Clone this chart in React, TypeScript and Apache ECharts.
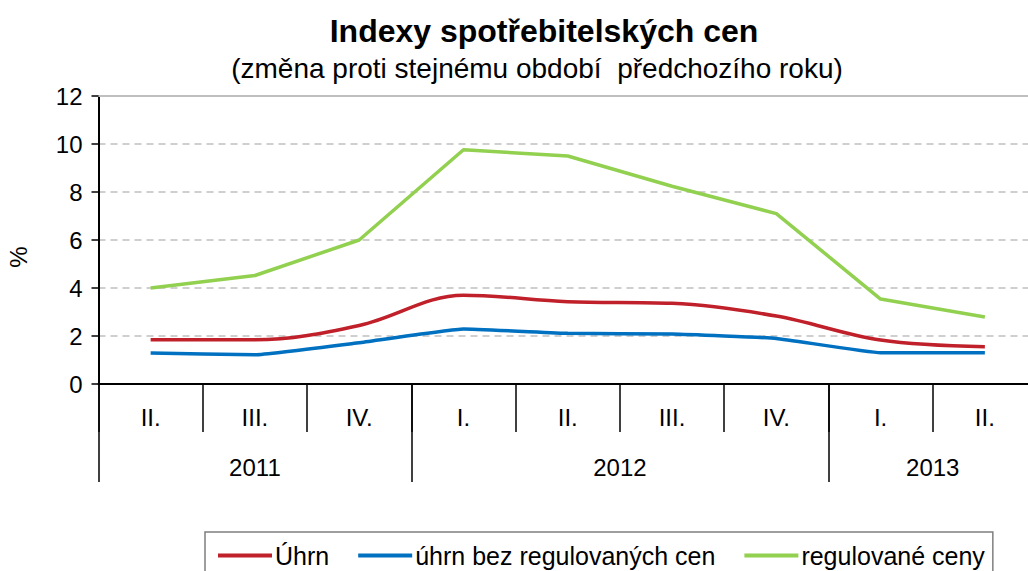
import React, { useEffect, useRef } from "react";
import * as echarts from "echarts";

const quarters = ["II.", "III.", "IV.", "I.", "II.", "III.", "IV.", "I.", "II."];
const yearLabels = ["2011", "2012", "2013"];
const yearLabelPositions = [1.5, 5, 8];
const yearBoundaries = [0, 3, 7, 9];

const uhrn = [1.84, 1.84, 2.44, 3.7, 3.43, 3.36, 2.83, 1.83, 1.55];
const uhrnBezRegulovanych = [1.29, 1.22, 1.72, 2.29, 2.11, 2.08, 1.9, 1.3, 1.3];
const regulovaneCeny = [4.0, 4.52, 6.0, 9.76, 9.5, 8.24, 7.1, 3.54, 2.79];

const FONT = "'Liberation Sans', Arial, sans-serif";

export default function App() {
  const ref = useRef<HTMLDivElement>(null);

  useEffect(() => {
    if (!ref.current) return;
    const chart = echarts.init(ref.current, undefined, { renderer: "svg" });
    chart.setOption({
      animation: false,
      backgroundColor: "#ffffff",
      textStyle: { fontFamily: FONT, color: "#000" },
      title: [
        {
          text: "Indexy spotřebitelských cen",
          left: 539,
          top: 10,
          textAlign: "center",
          textStyle: { fontFamily: FONT, fontSize: 32, fontWeight: "bold", color: "#000" },
        },
        {
          text: "(změna proti stejnému období  předchozího roku)",
          left: 532,
          top: 49,
          textAlign: "center",
          textStyle: { fontFamily: FONT, fontSize: 28, fontWeight: "normal", color: "#000" },
        },
      ],
      legend: {
        data: ["Úhrn", "úhrn bez regulovaných cen", "regulované ceny"],
        left: 205,
        top: 532,
        padding: [11, 8, 14, 13],
        borderColor: "#7F7F7F",
        borderWidth: 1.5,
        itemGap: 29,
        itemWidth: 54,
        itemHeight: 4,
        icon: "rect",
        textStyle: { fontFamily: FONT, fontSize: 25, color: "#000", padding: [0, 0, 0, -2] },
      },
      grid: {
        left: 98.5,
        width: 938.5,
        top: 96,
        bottom: 187,
        containLabel: false,
        outerBoundsMode: "none",
      },
      xAxis: [
        {
          type: "category",
          data: quarters,
          boundaryGap: true,
          position: "bottom",
          axisLine: { show: true, onZero: false, lineStyle: { color: "#000", width: 2 } },
          axisTick: { show: true, interval: 0, length: 48, lineStyle: { color: "#000", width: 1.5 } },
          axisLabel: { interval: 0, margin: 21, fontFamily: FONT, fontSize: 24, color: "#000" },
          splitLine: { show: false },
        },
        {
          type: "value",
          min: 0,
          max: 9,
          position: "bottom",
          axisLine: { show: false },
          axisTick: {
            show: true,
            customValues: yearBoundaries,
            length: 98,
            lineStyle: { color: "#000", width: 1.5 },
          },
          axisLabel: {
            show: true,
            customValues: yearLabelPositions,
            margin: 71,
            fontFamily: FONT,
            fontSize: 24,
            color: "#000",
            formatter: (v: number) => {
              const i = yearLabelPositions.indexOf(v);
              return i >= 0 ? yearLabels[i] : "";
            },
          },
          splitLine: { show: false },
        },
        {
          type: "category",
          data: quarters,
          position: "top",
          axisLine: { show: true, lineStyle: { color: "#BFBFBF", width: 2 } },
          axisTick: { show: false },
          axisLabel: { show: false },
          splitLine: { show: false },
        },
      ],
      yAxis: {
        type: "value",
        min: 0,
        max: 12,
        interval: 2,
        name: "%",
        nameLocation: "middle",
        nameRotate: 90,
        nameGap: 68,
        nameTextStyle: { fontFamily: FONT, fontSize: 24, color: "#000", padding: [0, 34, 0, 0] },
        axisLine: { show: true, lineStyle: { color: "#000", width: 2 } },
        axisTick: { show: true, length: 7, lineStyle: { color: "#000", width: 1.5 } },
        axisLabel: { margin: 16, fontFamily: FONT, fontSize: 24, color: "#000" },
        splitLine: { show: true, lineStyle: { color: "#C0C0C0", type: [7, 5], width: 1.5 } },
      },
      series: [
        {
          name: "Úhrn",
          type: "line",
          data: uhrn,
          smooth: 0.35,
          showSymbol: false,
          symbol: "none",
          lineStyle: { color: "#C0202A", width: 3.5 },
          itemStyle: { color: "#C0202A" },
        },
        {
          name: "úhrn bez regulovaných cen",
          type: "line",
          data: uhrnBezRegulovanych,
          smooth: 0.1,
          showSymbol: false,
          symbol: "none",
          lineStyle: { color: "#0070C0", width: 3.5 },
          itemStyle: { color: "#0070C0" },
        },
        {
          name: "regulované ceny",
          type: "line",
          data: regulovaneCeny,
          showSymbol: false,
          symbol: "none",
          lineStyle: { color: "#92D050", width: 3.5 },
          itemStyle: { color: "#92D050" },
        },
      ],
    });
    return () => chart.dispose();
  }, []);

  return (
    <div
      ref={ref}
      style={{ position: "fixed", left: 0, top: 0, width: 1028, height: 571, overflow: "hidden" }}
    />
  );
}
